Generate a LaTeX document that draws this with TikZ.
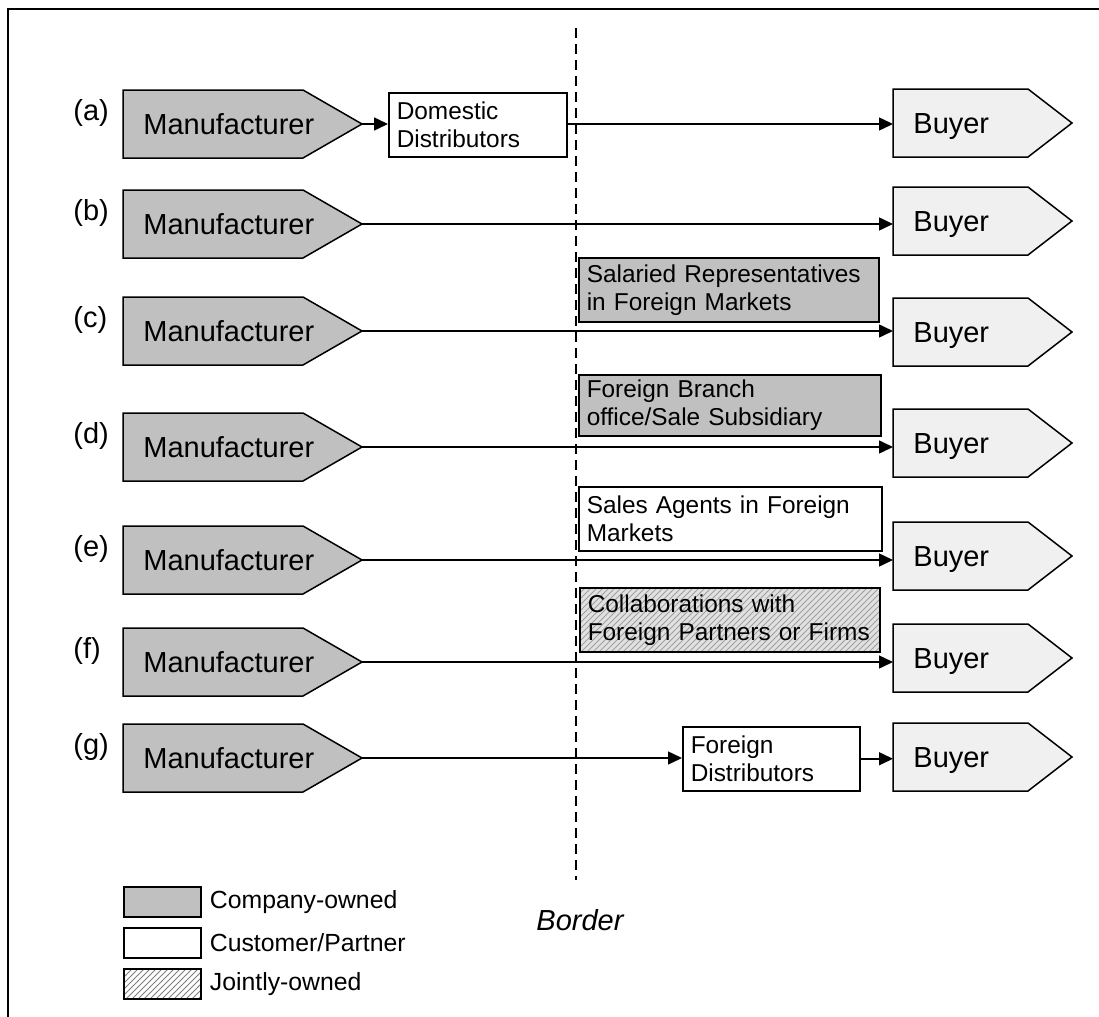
\documentclass[tikz,border=0pt]{standalone}
\usepackage{fontspec}
\setmainfont{Liberation Sans}
\usetikzlibrary{arrows.meta, positioning, patterns}

\definecolor{ownedgray}{RGB}{192,192,192}
\definecolor{buyergray}{RGB}{240,240,240}
\definecolor{hatchbg}{RGB}{225,225,225}
\definecolor{hatchline}{RGB}{160,160,160}

\begin{document}
\begin{tikzpicture}[x=0.5pt, y=-0.5pt,
    owned/.style={draw=black, fill=ownedgray, line width=0.75pt},
    partner/.style={draw=black, fill=white, line width=0.75pt},
    joint/.style={draw=black, line width=0.75pt, preaction={fill=hatchbg}, pattern=north east lines, pattern color=hatchline},
    buyershape/.style={draw=black, fill=buyergray, line width=0.75pt},
    bigtext/.style={inner sep=0pt, font=\fontsize{14.5}{17}\selectfont},
    smallbox/.style={anchor=north west, align=left, inner xsep=4pt, inner ysep=2pt, minimum height=32pt, font=\fontsize{12.2}{14}\selectfont},
    keybox/.style={anchor=north west, minimum width=38.5pt, minimum height=15pt, inner sep=0pt},
    keytext/.style={inner sep=0pt, font=\fontsize{12.4}{14}\selectfont},
    flow/.style={line width=0.75pt, -{Triangle[length=7pt, width=6.5pt]}},
    borderline/.style={line width=1pt, dash pattern=on 5pt off 3pt}]
    \useasboundingbox (0,0) rectangle (1099,1017);

    % frame
    \draw[line width=0.6pt] (8,1017) -- (8,9) -- (1099,9);

    % border between domestic and foreign market
    \coordinate (btop) at (576,28);
    \coordinate (bbot) at (576,880);
    \draw[borderline] (btop) -- (bbot);
    \node[bigtext, font=\fontsize{14.5}{17}\selectfont\itshape] (border) at (580,920) {Border};

    % one row per channel
    \foreach \r/\y/\yb in {a/124/123, b/224/221, c/331/332, d/447/443, e/560/556, f/662/658, g/758/757} {
        \node[bigtext, anchor=base west] (lab\r) at (73,\y-4) {(\r)};
        \draw[owned] (123,\y-34) -- (303,\y-34) -- (362,\y) coordinate (mtip\r)
            -- (303,\y+34) -- (123,\y+34) -- cycle;
        \node[bigtext, anchor=base west] (mfr\r) at (143,\y+10) {Manufacturer};
        \draw[buyershape] (893,\yb-34) coordinate (bnw\r) -- (1028,\yb-34) -- (1072,\yb)
            -- (1028,\yb+34) -- (893,\yb+34) -- cycle;
        \coordinate (bin\r) at (893,\yb);
        \node[bigtext, anchor=base west] (buyer\r) at (913,\yb+10) {Buyer};
    }

    % (a)
    \node[partner, smallbox, text width=81pt] (dom) at (388,92) {Domestic\\Distributors};
    \draw[flow] (mtipa) -- (mtipa -| dom.west);
    \draw[flow] (mtipa -| dom.east) -- (mtipa -| bina);

    % (b)
    \draw[flow] (mtipb) -- (mtipb -| binb);

    % (c)
    \node[owned, smallbox, text width=142pt] (sal) at (578,257) {Salaried Representatives\\in Foreign Markets};
    \draw[flow] (mtipc) -- (mtipc -| binc);

    % (d)
    \node[owned, smallbox, text width=143pt, minimum height=30.5pt] (branch) at (578,374) {Foreign Branch\\office/Sale Subsidiary};
    \draw[flow] (mtipd) -- (mtipd -| bind);

    % (e)
    \node[partner, smallbox, text width=143.5pt] (agents) at (578,486) {Sales Agents in Foreign\\Markets};
    \draw[flow] (mtipe) -- (mtipe -| bine);

    % (f)
    \node[joint, smallbox, text width=142pt] (collab) at (579,587) {Collaborations with\\Foreign Partners or Firms};
    \draw[flow] (mtipf) -- (mtipf -| binf);

    % (g)
    \node[partner, smallbox, text width=80.5pt] (fdist) at (682,726) {Foreign\\Distributors};
    \draw[flow] (mtipg) -- (mtipg -| fdist.west);
    \draw[flow] (fdist.east) -- (fdist.east -| bing);

    % legend
    \node[owned, keybox] (keyown) at (123,886) {};
    \node[keytext, right=4pt of keyown] (txtown) {Company-owned};
    \node[partner, keybox] (keycus) at (123,927) {};
    \node[keytext, right=4pt of keycus] (txtcus) {Customer/Partner};
    \node[joint, keybox, preaction={fill=white}, pattern color=gray] (keyjoint) at (123,968) {};
    \node[keytext, right=4pt of keyjoint] (txtjoint) {Jointly-owned};
\end{tikzpicture}
\end{document}
